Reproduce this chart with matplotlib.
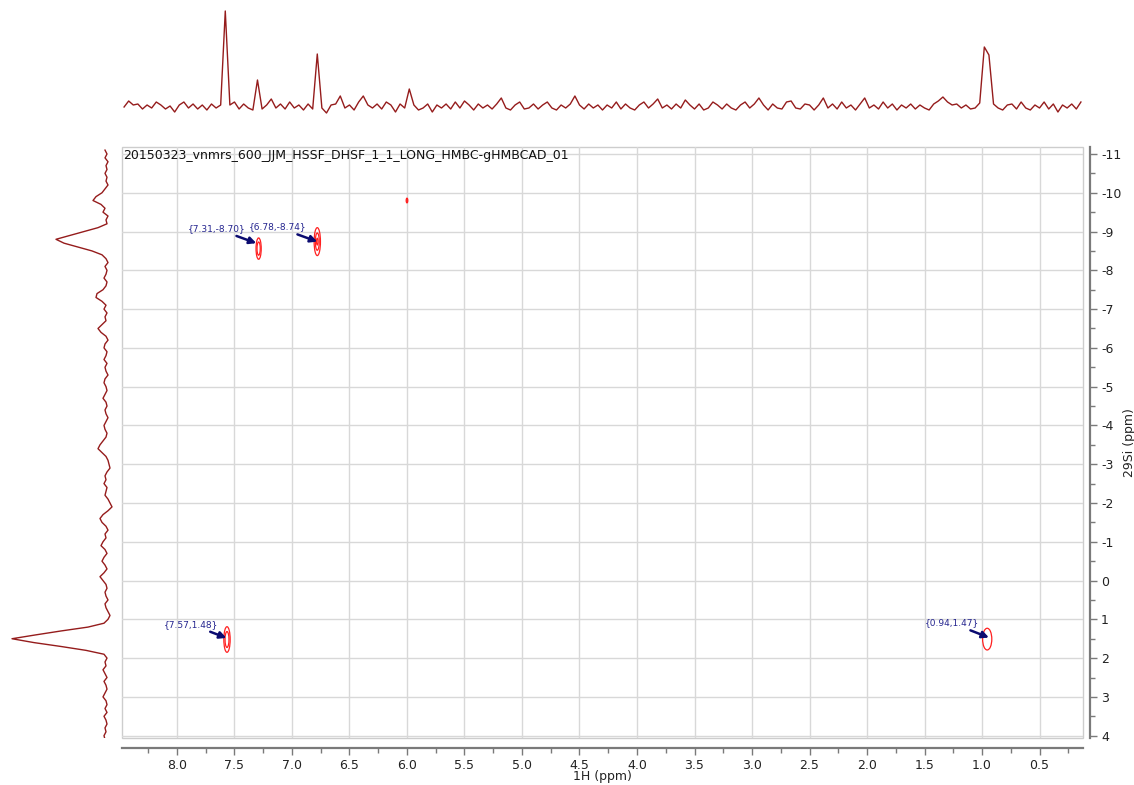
import numpy as np
import matplotlib
matplotlib.use("Agg")
import matplotlib.pyplot as plt
from matplotlib.patches import Ellipse, Rectangle
from matplotlib.ticker import MultipleLocator, FormatStrFormatter

plt.rcParams['axes.unicode_minus'] = False
plt.rcParams['font.family'] = ['DejaVu Sans']

# ---------------- data ----------------
title = "20150323_vnmrs_600_JJM_HSSF_DHSF_1_1_LONG_HMBC-gHMBCAD_01"

# 1H projection (top), sampled every 0.04 ppm from 8.46 down to 0.14
h1_start, h1_step = 8.46, 0.04
h1_intensity = [
    0, 6, 2, 3, -2, 2, -1, 5, 2, -2, 1, -5, 2, 5, -1, 3, -2, 2, -3, 3,
    -1, 2, 96, 2, 5, -2, 3, -1, -3, 27, -2, 2, 8, -1, 3, -2, 5, -1, 2, -3,
    3, -2, 53, -1, -6, 2, 3, 11, -1, 2, -3, 5, 11, 2, -1, 3, -2, 5, 2, -5,
    3, -1, 18, 2, -3, -1, 3, -5, 2, -1, 3, -2, 5, -1, 6, 2, -3, 3, -1, 2,
    -2, 3, 9, -1, -3, 2, 5, -2, -1, 3, -2, 2, 5, -1, -3, 2, -1, 3, 11, 2,
    -2, 3, -1, 2, -3, 2, -1, 5, -2, 3, -1, -3, 2, 5, -1, 3, 8, -1, 2, -2,
    3, -1, 7, 2, -2, 3, -3, -1, 5, 2, -2, 3, -1, -3, 2, 5, -1, 3, 9, 2,
    -3, 3, -1, -2, 5, 6, -1, -2, 3, 2, -3, 2, 9, -1, 3, -2, 5, -1, 2, -3,
    3, 9, -1, 2, -2, 5, -1, 3, -3, 2, -1, 3, -2, 2, -1, -3, 3, 6, 10, 5,
    2, 3, -1, 2, -2, -1, 4, 60, 52, 3, -1, -3, 2, 3, -2, 5, -1, -3, 2, -1,
    5, -2, 3, -5, 2, -1, 3, -2, 5,
]

# 29Si projection (left), sampled every 0.1 ppm from -11.1 up to 4.1
si_start, si_step = -11.1, 0.1
si_intensity = [
    1, -1, 1, -2, 0, -1, 1, -1, 0, -2, 1, 4, 10, 13, 5, 1, 3, -2, 0, -1,
    8, 22, 36, 50, 42, 28, 14, 4, 0, -2,
    1, -1, 0, 2, -1, 0, 3, 9, 10, 4, 0, 2, -1, 1, 0, 4, 8, 5, 0, -2,
    1, 2, -1, 0, 2, -1, 1, 0, -2, 1, 2, 0, -1, 1, 3, 0, -1, 1, 0, -2,
    0, 2, 1, -1, 0, 3, 6, 8, 4, 0, -2, -3, -4, -1, 1, 0, 2, -1, 0, 1,
    -2, -4, -6, -2, 3, 6, 4, 0, -2, 1, 0, 3, 5, 1, -1, 2, 4, 1, -1, 2,
    6, 3, 0, -1, 1, 0, -2, 1, 0, -2, -4, -2, 2, 18, 45, 70, 94, 72, 45, 20,
    2, -1, 1, 0, 3, 1, -1, 2, 0, -1, 1, 3, 0, -1, 1, -1, 2, 0, -1, 1,
    0, 2, 1,
]

# cross peaks (contours): 1H ppm, 29Si ppm, width (ppm), height (ppm)
cp_h = [7.29, 6.78, 6.00, 7.565, 0.955]
cp_si = [-8.56, -8.74, -9.80, 1.52, 1.51]
cp_w = [0.045, 0.055, 0.014, 0.055, 0.080]
cp_hgt = [0.55, 0.72, 0.12, 0.66, 0.56]
cp_rings = [2, 3, 1, 2, 1]

# peak picking labels
pk_h = [7.31, 6.78, 7.57, 0.94]
pk_si = [-8.70, -8.74, 1.48, 1.47]
pk_off = [(-11, 10), (-11, 10), (-8, 9), (-10, 10)]

# ---------------- layout ----------------
W, H = 1134, 785
fig = plt.figure(figsize=(W / 100, H / 100), dpi=100)


def rect(x0, y0, x1, y1):
    return [x0 / W, 1 - y1 / H, (x1 - x0) / W, (y1 - y0) / H]


XL = (8.478, 0.122)
YL = (4.06, -11.18)
trace_c = '#951c1c'

ax = fig.add_axes(rect(122, 147, 1083, 738))
axt = fig.add_axes(rect(122, 2, 1083, 120))
axl = fig.add_axes(rect(0, 147, 120, 738))

# ---- main 2D axes ----
ax.set_xlim(*XL)
ax.set_ylim(*YL)
ax.xaxis.set_major_locator(MultipleLocator(0.5))
ax.xaxis.set_minor_locator(MultipleLocator(0.25))
ax.xaxis.set_major_formatter(FormatStrFormatter('%.1f'))
ax.yaxis.set_major_locator(MultipleLocator(1))
ax.yaxis.set_minor_locator(MultipleLocator(0.5))
ax.yaxis.set_major_formatter(FormatStrFormatter('%d'))
ax.yaxis.tick_right()
ax.yaxis.set_label_position('right')
ax.grid(True, which='major', color='#d8d8d8', lw=1.0)
ax.set_axisbelow(True)
for s in ('top', 'left'):
    ax.spines[s].set_visible(False)
ax.spines['bottom'].set_position(('outward', 7))
ax.spines['right'].set_position(('outward', 5))
for s in ('bottom', 'right'):
    ax.spines[s].set_color('#7a7a7a')
    ax.spines[s].set_linewidth(1.6)
ax.add_patch(Rectangle((0, 0), 1, 1, transform=ax.transAxes, fill=False,
                       ec='#cdcdcd', lw=1.0, clip_on=False, zorder=0.5))
ax.tick_params(which='major', direction='out', length=5, width=1,
               color='#7a7a7a', labelsize=9, labelcolor='#222222', pad=3)
ax.tick_params(which='minor', direction='out', length=3.5, width=1,
               color='#7a7a7a')
ax.set_xlabel('1H (ppm)', fontsize=9, color='#222222', labelpad=-1)
ax.set_ylabel('29Si (ppm)', fontsize=9, color='#222222', labelpad=1)

ax.text(0.001, 0.996, title, transform=ax.transAxes, ha='left', va='top',
        fontsize=9, color='#111111')

for x, y, w, h, n in zip(cp_h, cp_si, cp_w, cp_hgt, cp_rings):
    for k in range(n):
        f = 1 - k * 0.38
        ax.add_patch(Ellipse((x, y), w * f, h * f, fill=(w < 0.02),
                             ec='#ff2020', fc='#ff2020', lw=0.9, zorder=3))

for x, y, (dx, dy) in zip(pk_h, pk_si, pk_off):
    ax.annotate('{%.2f,%.2f}' % (x, y), xy=(x, y), xytext=(dx, dy),
                textcoords='offset pixels', ha='right', va='bottom',
                fontsize=6.5, color='#25258f', zorder=5,
                arrowprops=dict(arrowstyle='-|>', color='#0b0b70', lw=1.8,
                                mutation_scale=10, shrinkA=0, shrinkB=0))

# ---- top 1H projection ----
h1_ppm = h1_start - h1_step * np.arange(len(h1_intensity))
axt.plot(h1_ppm, h1_intensity, color=trace_c, lw=1.0)
axt.set_xlim(*XL)
axt.set_ylim(-13, 105)
axt.axis('off')

# ---- left 29Si projection ----
si_ppm = si_start + si_step * np.arange(len(si_intensity))
axl.plot(si_intensity, si_ppm, color=trace_c, lw=1.0)
axl.set_xlim(106, -14)
axl.set_ylim(*YL)
axl.axis('off')

fig.savefig('out.png', dpi=100)
